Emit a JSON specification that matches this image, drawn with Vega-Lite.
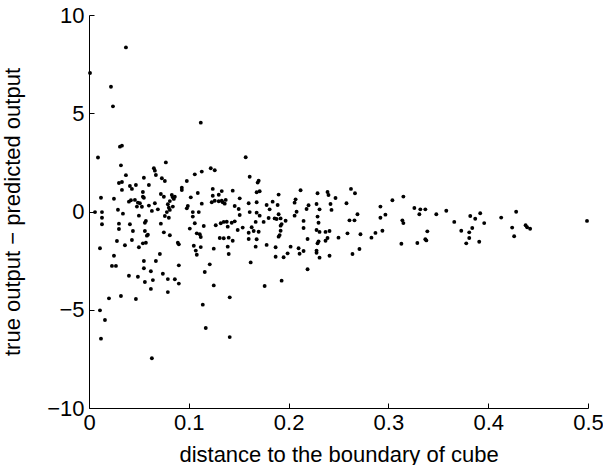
{
  "$schema": "https://vega.github.io/schema/vega-lite/v6.json",
  "width": 499,
  "height": 393,
  "autosize": {"type": "none"},
  "padding": {"left": 89, "top": 15, "right": 15, "bottom": 57},
  "background": "white",
  "config": {
    "view": {"stroke": null},
    "font": "Liberation Sans",
    "axis": {
      "grid": false,
      "domainColor": "#000000",
      "domainWidth": 1,
      "tickColor": "#000000",
      "tickSize": -5,
      "labelFont": "Liberation Sans",
      "labelFontSize": 22,
      "labelColor": "#000000",
      "titleFont": "Liberation Sans",
      "titleFontSize": 22,
      "titleFontWeight": "normal",
      "titleColor": "#000000",
      "labelFlush": false,
      "labelOverlap": false
    }
  },
  "data": {
    "values": [
      {"d":0.001,"e":7.05},{"d":0.037,"e":8.35},{"d":0.022,"e":6.35},{"d":0.024,"e":5.35},{"d":0.009,"e":2.75},{"d":0.031,"e":3.3},{"d":0.033,"e":3.35},{"d":0.032,"e":2.35},{"d":0.037,"e":1.85},{"d":0.030,"e":1.45},{"d":0.033,"e":1.5},{"d":0.033,"e":1.1},{"d":0.041,"e":1.3},{"d":0.043,"e":1.15},{"d":0.047,"e":1.35},{"d":0.012,"e":0.7},{"d":0.025,"e":0.65},{"d":0.006,"e":-0.03},{"d":0.013,"e":-0.03},{"d":0.013,"e":-0.32},{"d":0.013,"e":-0.65},{"d":0.011,"e":-1.87},{"d":0.029,"e":0.09},{"d":0.034,"e":-0.11},{"d":0.030,"e":-0.62},{"d":0.030,"e":-0.89},{"d":0.028,"e":-1.5},{"d":0.025,"e":-2.25},{"d":0.023,"e":-2.77},{"d":0.027,"e":-2.77},{"d":0.032,"e":-4.3},{"d":0.020,"e":-4.42},{"d":0.011,"e":-5.03},{"d":0.016,"e":-5.52},{"d":0.012,"e":-6.47},{"d":0.040,"e":-3.27},{"d":0.047,"e":-4.45},{"d":0.036,"e":-1.72},{"d":0.043,"e":-1.45},{"d":0.044,"e":-0.99},{"d":0.041,"e":-0.65},{"d":0.040,"e":0.5},{"d":0.042,"e":0.57},{"d":0.046,"e":0.59},{"d":0.048,"e":0.25},{"d":0.049,"e":0.45},
      {"d":0.050,"e":-0.21},{"d":0.051,"e":0.42},{"d":0.053,"e":0.24},{"d":0.054,"e":0.99},{"d":0.054,"e":0.75},{"d":0.055,"e":0.70},{"d":0.055,"e":1.72},{"d":0.060,"e":1.35},{"d":0.065,"e":2.2},{"d":0.066,"e":2.08},{"d":0.067,"e":1.86},{"d":0.073,"e":1.69},{"d":0.077,"e":2.5},{"d":0.076,"e":1.55},{"d":0.072,"e":0.89},{"d":0.083,"e":0.84},{"d":0.084,"e":0.72},{"d":0.093,"e":1.21},{"d":0.093,"e":1.09},{"d":0.098,"e":1.55},{"d":0.057,"e":-0.48},{"d":0.056,"e":-0.57},{"d":0.056,"e":-0.99},{"d":0.058,"e":-1.23},{"d":0.059,"e":-1.18},{"d":0.054,"e":-1.62},{"d":0.057,"e":-1.59},{"d":0.050,"e":-1.82},{"d":0.055,"e":-2.52},{"d":0.055,"e":-2.89},{"d":0.049,"e":-3.32},{"d":0.056,"e":-3.59},{"d":0.062,"e":-3.04},{"d":0.064,"e":-3.49},{"d":0.062,"e":-3.94},{"d":0.063,"e":-7.47},{"d":0.067,"e":-2.52},{"d":0.071,"e":-2.16},{"d":0.074,"e":-3.17},{"d":0.072,"e":-0.62},{"d":0.075,"e":-1.06},{"d":0.081,"e":-1.21},{"d":0.076,"e":-0.23},{"d":0.080,"e":-0.32},{"d":0.078,"e":-0.03},{"d":0.081,"e":0.08},{"d":0.084,"e":0.25},{"d":0.063,"e":0.03},{"d":0.066,"e":0.42},{"d":0.069,"e":0.11},{"d":0.075,"e":0.75},{"d":0.081,"e":0.53},{"d":0.086,"e":0.75},{"d":0.085,"e":0.64},{"d":0.079,"e":0.37},{"d":0.080,"e":0.19},{"d":0.079,"e":-3.44},{"d":0.086,"e":-3.45},{"d":0.090,"e":-3.67},{"d":0.079,"e":-4.1},{"d":0.090,"e":-2.74},{"d":0.089,"e":-1.59},{"d":0.090,"e":-1.67},{"d":0.098,"e":0.16},{"d":0.099,"e":0.28},{"d":0.060,"e":0.30},{"d":0.102,"e":0.72},
      {"d":0.106,"e":1.89},{"d":0.109,"e":0.94},{"d":0.112,"e":4.52},{"d":0.113,"e":2.03},{"d":0.122,"e":2.2},{"d":0.126,"e":2.1},{"d":0.124,"e":1.15},{"d":0.124,"e":0.8},{"d":0.130,"e":0.85},{"d":0.123,"e":0.47},{"d":0.133,"e":1.04},{"d":0.144,"e":1.06},{"d":0.130,"e":0.52},{"d":0.133,"e":0.55},{"d":0.134,"e":0.47},{"d":0.136,"e":0.4},{"d":0.137,"e":0.59},{"d":0.126,"e":0.55},{"d":0.146,"e":0.28},{"d":0.150,"e":0.13},{"d":0.104,"e":-0.03},{"d":0.104,"e":-0.26},{"d":0.110,"e":-0.03},{"d":0.106,"e":-0.6},{"d":0.101,"e":-0.87},{"d":0.108,"e":-1.11},{"d":0.112,"e":-1.3},{"d":0.111,"e":-1.16},{"d":0.115,"e":-0.74},{"d":0.105,"e":-1.74},{"d":0.107,"e":-1.99},{"d":0.108,"e":-2.2},{"d":0.112,"e":-1.81},{"d":0.113,"e":0.4},{"d":0.121,"e":-2.69},{"d":0.116,"e":-3.08},{"d":0.125,"e":-1.89},{"d":0.125,"e":-3.76},{"d":0.114,"e":-4.74},{"d":0.117,"e":-5.93},{"d":0.141,"e":-4.37},{"d":0.141,"e":-6.39},{"d":0.131,"e":-1.35},{"d":0.135,"e":-1.36},{"d":0.140,"e":-1.33},{"d":0.144,"e":-1.49},{"d":0.139,"e":-1.79},{"d":0.140,"e":-2.16},{"d":0.127,"e":-0.70},{"d":0.132,"e":-0.6},{"d":0.135,"e":-0.53},{"d":0.138,"e":-0.52},{"d":0.139,"e":-0.77},{"d":0.143,"e":-0.57},{"d":0.146,"e":-0.5},{"d":0.149,"e":-0.94},{"d":0.151,"e":0.67},{"d":0.151,"e":-0.18},{"d":0.154,"e":-0.82},
      {"d":0.157,"e":2.76},{"d":0.161,"e":1.77},{"d":0.170,"e":1.57},{"d":0.169,"e":1.47},{"d":0.171,"e":1.03},{"d":0.168,"e":0.98},{"d":0.190,"e":0.86},{"d":0.212,"e":1.08},{"d":0.229,"e":0.93},{"d":0.239,"e":0.99},{"d":0.240,"e":0.84},{"d":0.247,"e":0.69},{"d":0.207,"e":0.62},{"d":0.206,"e":0.45},{"d":0.220,"e":0.32},{"d":0.218,"e":0.13},{"d":0.228,"e":0.38},{"d":0.231,"e":0.11},{"d":0.242,"e":0.38},{"d":0.243,"e":0.08},{"d":0.160,"e":0.42},{"d":0.168,"e":0.47},{"d":0.161,"e":-0.03},{"d":0.168,"e":-0.06},{"d":0.171,"e":-0.21},{"d":0.178,"e":0.33},{"d":0.181,"e":0.11},{"d":0.184,"e":0.5},{"d":0.189,"e":0.33},{"d":0.190,"e":-0.14},{"d":0.180,"e":-0.33},{"d":0.186,"e":-0.35},{"d":0.188,"e":-0.38},{"d":0.192,"e":-0.35},{"d":0.197,"e":-0.47},{"d":0.193,"e":-0.64},{"d":0.192,"e":-0.72},{"d":0.192,"e":-0.98},{"d":0.191,"e":-1.2},{"d":0.190,"e":-1.28},{"d":0.175,"e":-0.53},{"d":0.167,"e":-0.53},{"d":0.163,"e":-0.8},{"d":0.165,"e":-0.99},{"d":0.170,"e":-1.03},{"d":0.160,"e":-1.08},{"d":0.168,"e":-1.41},{"d":0.160,"e":-1.4},{"d":0.167,"e":-1.79},{"d":0.178,"e":-1.7},{"d":0.187,"e":-1.82},{"d":0.187,"e":-2.3},{"d":0.195,"e":-2.33},{"d":0.199,"e":-2.13},{"d":0.202,"e":-1.79},{"d":0.162,"e":-2.59},{"d":0.176,"e":-3.79},{"d":0.193,"e":-3.52},{"d":0.219,"e":-2.94},{"d":0.210,"e":-1.87},{"d":0.211,"e":-2.15},{"d":0.215,"e":-2.01},{"d":0.228,"e":-1.99},{"d":0.228,"e":-2.1},{"d":0.231,"e":-2.35},{"d":0.229,"e":-1.62},{"d":0.230,"e":-1.52},{"d":0.241,"e":-2.25},{"d":0.237,"e":-1.49},{"d":0.239,"e":-1.35},{"d":0.250,"e":-1.33},{"d":0.219,"e":-1.4},{"d":0.215,"e":-0.84},{"d":0.215,"e":-0.48},{"d":0.228,"e":-0.94},{"d":0.231,"e":-1.04},{"d":0.237,"e":-1.04},{"d":0.241,"e":-0.99},{"d":0.230,"e":-0.57},{"d":0.229,"e":-0.26},{"d":0.208,"e":-0.01},{"d":0.206,"e":-0.21},
      {"d":0.2625,"e":1.15},{"d":0.2665,"e":0.93},{"d":0.258,"e":0.42},{"d":0.269,"e":-0.14},{"d":0.261,"e":-0.45},{"d":0.266,"e":-0.45},{"d":0.259,"e":-1.11},{"d":0.272,"e":-1.16},{"d":0.264,"e":-2.16},{"d":0.271,"e":-1.91},{"d":0.292,"e":0.25},{"d":0.297,"e":-0.16},{"d":0.292,"e":-0.32},{"d":0.304,"e":0.57},{"d":0.315,"e":0.76},{"d":0.314,"e":-0.45},{"d":0.315,"e":-0.59},{"d":0.294,"e":-0.98},{"d":0.287,"e":-1.09},{"d":0.283,"e":-1.33},{"d":0.313,"e":-1.64},{"d":0.329,"e":-1.60},{"d":0.326,"e":0.18},{"d":0.331,"e":-0.14},{"d":0.332,"e":0.11},{"d":0.337,"e":0.11},{"d":0.348,"e":-0.14},{"d":0.339,"e":-1.01},{"d":0.337,"e":-1.41},{"d":0.338,"e":-1.47},{"d":0.358,"e":0.04},{"d":0.366,"e":-0.53},{"d":0.373,"e":-0.98},{"d":0.382,"e":-0.23},{"d":0.381,"e":-1.06},{"d":0.381,"e":-1.35},{"d":0.378,"e":-1.62},
      {"d":0.387,"e":-0.37},{"d":0.392,"e":-0.09},{"d":0.396,"e":-0.59},{"d":0.384,"e":-0.84},{"d":0.391,"e":-1.54},{"d":0.413,"e":-0.31},{"d":0.428,"e":-0.01},{"d":0.424,"e":-0.82},{"d":0.426,"e":-1.26},{"d":0.4375,"e":-0.70},{"d":0.439,"e":-0.80},{"d":0.442,"e":-0.88},{"d":0.499,"e":-0.48}
    ]
  },
  "mark": {"type": "circle", "size": 15, "color": "#000000", "opacity": 1},
  "encoding": {
    "x": {
      "field": "d",
      "type": "quantitative",
      "scale": {"domain": [0, 0.5], "nice": false, "zero": false},
      "axis": {
        "values": [0, 0.1, 0.2, 0.3, 0.4, 0.5],
        "format": ".1~f",
        "title": "distance to the boundary of cube",
        "labelPadding": 9,
        "titleX": 249.5,
        "titleY": 53,
        "titleAlign": "center",
        "titleBaseline": "alphabetic"
      }
    },
    "y": {
      "field": "e",
      "type": "quantitative",
      "scale": {"domain": [-10, 10], "nice": false, "zero": false},
      "axis": {
        "values": [-10, -5, 0, 5, 10],
        "title": "true output − predicted output",
        "labelPadding": 10,
        "titleX": -77,
        "titleY": 196.5,
        "titleAngle": -90,
        "titleAlign": "center",
        "titleBaseline": "middle"
      }
    }
  }
}
